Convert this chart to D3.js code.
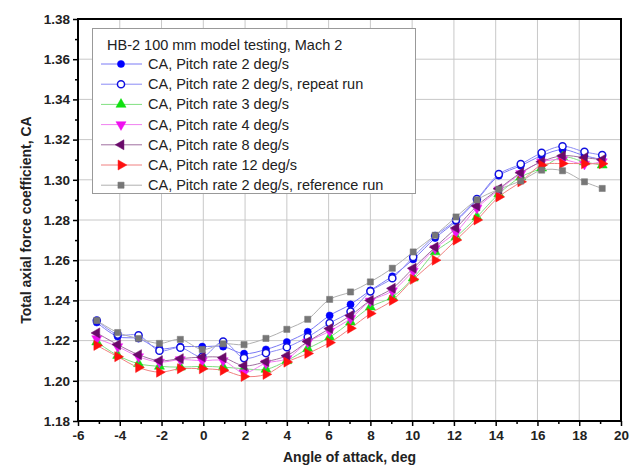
<!DOCTYPE html>
<html>
<head>
<meta charset="utf-8">
<script src="https://cdn.jsdelivr.net/npm/d3@7"></script>
<style>
  body { margin: 0; background: #fff; }
  text { font-family: "Liberation Sans", Arial, sans-serif; }
</style>
</head>
<body>
<div id="chart"></div>
<script>
// angle of attack, deg (shared by every run)
var aoa = [-5.1, -4.1, -3.1, -2.1, -1.1, -0.05, 0.95, 1.95, 3.0, 4.0, 5.0, 6.05, 7.05, 8.0, 9.05, 10.05, 11.1, 12.1, 13.1, 14.15, 15.2, 16.2, 17.2, 18.25, 19.1];

var rate2 = [1.229, 1.222, 1.221, 1.216, 1.217, 1.217, 1.217, 1.2135, 1.2156, 1.2193, 1.2244, 1.2325, 1.238, 1.245, 1.252, 1.2604, 1.271, 1.2794, 1.290, 1.302, 1.307, 1.312, 1.315, 1.312, 1.310];
var rate2repeat = [1.230, 1.223, 1.2226, 1.215, 1.2165, 1.212, 1.2195, 1.2113, 1.2138, 1.2167, 1.2218, 1.2287, 1.2345, 1.2445, 1.251, 1.2616, 1.272, 1.280, 1.2904, 1.3028, 1.3078, 1.3134, 1.3167, 1.3139, 1.3123];
var rate3 = [1.2193, 1.2126, 1.2085, 1.2072, 1.2068, 1.2072, 1.2068, 1.2060, 1.2057, 1.2100, 1.2160, 1.2217, 1.2292, 1.2367, 1.2417, 1.2511, 1.2641, 1.2716, 1.2815, 1.2930, 1.3014, 1.3058, 1.3114, 1.3089, 1.3073];
var rate4 = [1.2210, 1.2170, 1.2120, 1.2093, 1.2105, 1.2100, 1.2100, 1.2040, 1.2088, 1.2110, 1.2193, 1.2247, 1.2310, 1.2397, 1.2447, 1.2546, 1.2658, 1.2740, 1.2859, 1.2950, 1.3031, 1.3089, 1.3100, 1.3078, 1.3090];
var rate8 = [1.2238, 1.2180, 1.2130, 1.2100, 1.2110, 1.2118, 1.2115, 1.2075, 1.2095, 1.2125, 1.2195, 1.2260, 1.2325, 1.2400, 1.2460, 1.2560, 1.2665, 1.2760, 1.2870, 1.2955, 1.3035, 1.3090, 1.3120, 1.3110, 1.3100];
var rate12 = [1.2176, 1.2120, 1.2066, 1.2043, 1.2060, 1.2060, 1.2052, 1.2022, 1.2032, 1.2093, 1.2136, 1.2190, 1.2261, 1.2335, 1.2400, 1.2505, 1.2600, 1.2700, 1.2800, 1.2915, 1.2990, 1.3073, 1.3081, 1.3080, 1.3080];
var rate2ref = [1.230, 1.224, 1.221, 1.2186, 1.2206, 1.2156, 1.2184, 1.218, 1.2211, 1.2256, 1.2306, 1.2405, 1.2442, 1.2492, 1.256, 1.2641, 1.2724, 1.2815, 1.290, 1.2953, 1.2994, 1.3048, 1.3045, 1.299, 1.2957];

var legendTitle = "HB-2 100 mm model testing, Mach 2";
var names = ["CA, Pitch rate 2 deg/s", "CA, Pitch rate 2 deg/s, repeat run", "CA, Pitch rate 3 deg/s",
  "CA, Pitch rate 4 deg/s", "CA, Pitch rate 8 deg/s", "CA, Pitch rate 12 deg/s", "CA, Pitch rate 2 deg/s, reference run"];
var values = [rate2, rate2repeat, rate3, rate4, rate8, rate12, rate2ref];

var xTicks = d3.range(-6, 21, 2);
var yTicks = d3.range(1.18, 1.3801, 0.02);

// styling per series
var styles = [
  {marker: "circle", fill: "#0000ff", stroke: "#0000ff", line: "#7a7af5"},
  {marker: "circle", fill: "#ffffff", stroke: "#1010e0", line: "#8a8af5"},
  {marker: "up", fill: "#10e010", stroke: "#10e010", line: "#80e080"},
  {marker: "down", fill: "#f010f0", stroke: "#f010f0", line: "#f080f0"},
  {marker: "left", fill: "#6a0a6a", stroke: "#6a0a6a", line: "#a070a0"},
  {marker: "right", fill: "#ff1010", stroke: "#ff1010", line: "#f08080"},
  {marker: "square", fill: "#777777", stroke: "#777777", line: "#b0b0b0"}
];

var width = 635, height = 474;
var x = d3.scaleLinear().domain([-6, 20]).range([78, 621]);
var y = d3.scaleLinear().domain([1.18, 1.38]).range([421, 19]);

var svg = d3.select("#chart").append("svg")
  .attr("width", width)
  .attr("height", height);

// grid
svg.append("g").selectAll("line").data(xTicks.slice(1, -1)).enter().append("line")
  .attr("x1", d => x(d)).attr("x2", d => x(d))
  .attr("y1", y(1.18)).attr("y2", y(1.38))
  .attr("stroke", "#c8c8c8").attr("stroke-width", 1);
svg.append("g").selectAll("line").data(yTicks.slice(1, -1)).enter().append("line")
  .attr("y1", d => y(d)).attr("y2", d => y(d))
  .attr("x1", x(-6)).attr("x2", x(20))
  .attr("stroke", "#c8c8c8").attr("stroke-width", 1);

// axes
var xAxis = svg.append("g")
  .attr("transform", "translate(0," + y(1.18) + ")")
  .call(d3.axisBottom(x).tickValues(xTicks).tickSize(5).tickPadding(4).tickFormat(d => String(d)));
var xMinor = svg.append("g")
  .attr("transform", "translate(0," + y(1.18) + ")")
  .call(d3.axisBottom(x).tickValues(d3.range(-5, 20, 2)).tickSize(3).tickFormat(""));
var yAxis = svg.append("g")
  .attr("transform", "translate(" + x(-6) + ",0)")
  .call(d3.axisLeft(y).tickValues(yTicks).tickSize(5).tickPadding(3).tickFormat(d => d.toFixed(2)));
var yMinor = svg.append("g")
  .attr("transform", "translate(" + x(-6) + ",0)")
  .call(d3.axisLeft(y).tickValues(d3.range(1.19, 1.38, 0.02)).tickSize(3).tickFormat(""));

[xAxis, xMinor, yAxis, yMinor].forEach(function(a) {
  a.select(".domain").remove();
  a.selectAll("line").attr("stroke", "#000").attr("stroke-width", 1.5);
  a.selectAll("text")
    .attr("fill", "#222")
    .style("font-family", "'Liberation Sans', Arial, sans-serif")
    .style("font-size", "13.5px")
    .style("font-weight", "bold");
});

// frame
svg.append("rect")
  .attr("x", x(-6)).attr("y", y(1.38))
  .attr("width", x(20) - x(-6)).attr("height", y(1.18) - y(1.38))
  .attr("fill", "none").attr("stroke", "#000").attr("stroke-width", 2);

// axis titles
svg.append("text")
  .attr("x", (x(-6) + x(20)) / 2).attr("y", 462)
  .attr("text-anchor", "middle")
  .style("font-size", "14px").style("font-weight", "bold").attr("fill", "#222")
  .text("Angle of attack, deg");
svg.append("text")
  .attr("transform", "translate(31," + (y(1.18) + y(1.38)) / 2 + ") rotate(-90)")
  .attr("text-anchor", "middle")
  .style("font-size", "14px").style("font-weight", "bold").attr("fill", "#222")
  .text("Total axial force coefficient, CA");

// markers
var sym = {
  circle: d3.symbol().type(d3.symbolCircle).size(40),
  square: d3.symbol().type(d3.symbolSquare).size(38),
  up: d3.symbol().type(d3.symbolTriangle).size(44)
};
var markerPath = function(kind) {
  return kind === "circle" || kind === "square" || kind === "up" ? sym[kind]() : sym.up();
};
var markerRot = {circle: 0, square: 0, up: 0, down: 180, left: -90, right: 90};

var line = d3.line()
  .x((d, i) => x(aoa[i]))
  .y(d => y(d))
  .curve(d3.curveCatmullRom.alpha(0.5));

var series = svg.append("g").selectAll("g").data(values).enter().append("g");

series.append("path")
  .attr("d", d => line(d))
  .attr("fill", "none")
  .attr("stroke", (d, i) => styles[i].line)
  .attr("stroke-width", 1);

series.each(function(vals, k) {
  var st = styles[k];
  d3.select(this).selectAll(".pt").data(vals).enter().append("path")
    .attr("class", "pt")
    .attr("d", markerPath(st.marker))
    .attr("transform", (d, i) => "translate(" + x(aoa[i]) + "," + y(d) + ") rotate(" + markerRot[st.marker] + ")")
    .attr("fill", st.fill)
    .attr("stroke", st.stroke)
    .attr("stroke-width", st.marker === "circle" && st.fill === "#ffffff" ? 1.5 : 0.5);
});

// legend
var lg = svg.append("g");
lg.append("rect")
  .attr("x", 92.5).attr("y", 28.5).attr("width", 323).attr("height", 165)
  .attr("fill", "#fff").attr("stroke", "#999").attr("stroke-width", 1);
lg.append("text")
  .attr("x", 107).attr("y", 50)
  .style("font-size", "14.5px").attr("fill", "#222")
  .text(legendTitle);
var items = lg.selectAll(".item").data(names).enter().append("g")
  .attr("transform", (d, i) => "translate(0," + (64 + i * 20.2) + ")");
items.append("line")
  .attr("x1", 101).attr("x2", 142).attr("y1", 0).attr("y2", 0)
  .attr("stroke", (d, i) => styles[i].line).attr("stroke-width", 1);
items.append("path")
  .attr("d", (d, i) => markerPath(styles[i].marker))
  .attr("transform", (d, i) => "translate(121,0) rotate(" + markerRot[styles[i].marker] + ")")
  .attr("fill", (d, i) => styles[i].fill)
  .attr("stroke", (d, i) => styles[i].stroke)
  .attr("stroke-width", (d, i) => i === 1 ? 1.5 : 0.5);
items.append("text")
  .attr("x", 148).attr("y", 5)
  .style("font-size", "14.5px").attr("fill", "#222")
  .text(d => d);
</script>
</body>
</html>
